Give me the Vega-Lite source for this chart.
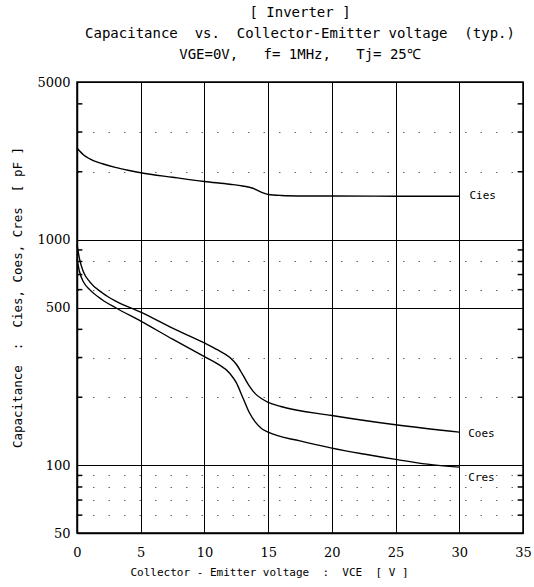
{
  "$schema": "https://vega.github.io/schema/vega-lite/v6.json",
  "width": 446,
  "height": 451,
  "autosize": {"type": "none"},
  "padding": {"left": 77, "top": 82, "right": 11, "bottom": 54},
  "background": "white",
  "config": {
    "view": {"stroke": "black", "strokeWidth": 1.5},
    "font": "DejaVu Sans Mono"
  },
  "title": {
    "text": ["[ Inverter ]", "Capacitance\u00a0\u00a0vs.\u00a0\u00a0Collector-Emitter voltage\u00a0\u00a0(typ.)", "VGE=0V,\u00a0\u00a0\u00a0f=\u00a01MHz,\u00a0\u00a0\u00a0Tj=\u00a025℃"],
    "anchor": "middle",
    "frame": "group",
    "font": "DejaVu Sans Mono",
    "fontSize": 14,
    "fontWeight": "normal",
    "lineHeight": 21,
    "offset": 14,
    "color": "black"
  },
  "datasets": {
    "curves": [
      {"series": "Cies", "vce": 0, "c": 2550},
      {"series": "Cies", "vce": 0.5, "c": 2380},
      {"series": "Cies", "vce": 1, "c": 2280},
      {"series": "Cies", "vce": 2, "c": 2170},
      {"series": "Cies", "vce": 3, "c": 2090},
      {"series": "Cies", "vce": 4, "c": 2030},
      {"series": "Cies", "vce": 5, "c": 1980},
      {"series": "Cies", "vce": 7.5, "c": 1890},
      {"series": "Cies", "vce": 10, "c": 1810},
      {"series": "Cies", "vce": 12, "c": 1760},
      {"series": "Cies", "vce": 13, "c": 1730},
      {"series": "Cies", "vce": 13.8, "c": 1690},
      {"series": "Cies", "vce": 14.5, "c": 1620},
      {"series": "Cies", "vce": 15, "c": 1585},
      {"series": "Cies", "vce": 16, "c": 1570},
      {"series": "Cies", "vce": 18, "c": 1562},
      {"series": "Cies", "vce": 20, "c": 1560},
      {"series": "Cies", "vce": 25, "c": 1558},
      {"series": "Cies", "vce": 30, "c": 1556},
      {"series": "Coes", "vce": 0, "c": 950},
      {"series": "Coes", "vce": 0.2, "c": 820},
      {"series": "Coes", "vce": 0.5, "c": 720},
      {"series": "Coes", "vce": 1, "c": 650},
      {"series": "Coes", "vce": 2, "c": 580},
      {"series": "Coes", "vce": 3, "c": 535},
      {"series": "Coes", "vce": 5, "c": 477},
      {"series": "Coes", "vce": 7.5, "c": 405},
      {"series": "Coes", "vce": 10, "c": 348},
      {"series": "Coes", "vce": 11, "c": 325},
      {"series": "Coes", "vce": 12, "c": 300},
      {"series": "Coes", "vce": 12.5, "c": 280},
      {"series": "Coes", "vce": 13, "c": 252},
      {"series": "Coes", "vce": 13.5, "c": 225},
      {"series": "Coes", "vce": 14, "c": 207},
      {"series": "Coes", "vce": 14.5, "c": 197},
      {"series": "Coes", "vce": 15, "c": 190},
      {"series": "Coes", "vce": 16, "c": 182},
      {"series": "Coes", "vce": 20, "c": 166},
      {"series": "Coes", "vce": 25, "c": 151},
      {"series": "Coes", "vce": 30, "c": 140},
      {"series": "Cres", "vce": 0, "c": 820},
      {"series": "Cres", "vce": 0.2, "c": 720},
      {"series": "Cres", "vce": 0.5, "c": 650},
      {"series": "Cres", "vce": 1, "c": 600},
      {"series": "Cres", "vce": 2, "c": 540},
      {"series": "Cres", "vce": 3, "c": 500},
      {"series": "Cres", "vce": 5, "c": 435},
      {"series": "Cres", "vce": 7.5, "c": 362},
      {"series": "Cres", "vce": 10, "c": 303},
      {"series": "Cres", "vce": 11, "c": 282},
      {"series": "Cres", "vce": 12, "c": 255},
      {"series": "Cres", "vce": 12.5, "c": 232},
      {"series": "Cres", "vce": 13, "c": 200},
      {"series": "Cres", "vce": 13.5, "c": 172},
      {"series": "Cres", "vce": 14, "c": 155},
      {"series": "Cres", "vce": 14.5, "c": 145},
      {"series": "Cres", "vce": 15, "c": 140},
      {"series": "Cres", "vce": 17.5, "c": 128},
      {"series": "Cres", "vce": 20, "c": 119},
      {"series": "Cres", "vce": 22.5, "c": 112},
      {"series": "Cres", "vce": 25, "c": 106},
      {"series": "Cres", "vce": 27.5, "c": 101},
      {"series": "Cres", "vce": 30, "c": 98}
    ],
    "labels": [
      {"series": "Cies", "vce": 30.8, "c": 1560},
      {"series": "Coes", "vce": 30.7, "c": 138},
      {"series": "Cres", "vce": 30.7, "c": 88}
    ],
    "minorTicks": [
      {"c": 60}, {"c": 70}, {"c": 80}, {"c": 90},
      {"c": 200}, {"c": 300}, {"c": 400},
      {"c": 600}, {"c": 700}, {"c": 800}, {"c": 900},
      {"c": 2000}, {"c": 3000}, {"c": 4000}
    ]
  },
  "layer": [
    {
      "data": {"name": "curves"},
      "mark": {"type": "line", "color": "black", "strokeWidth": 1.4, "interpolate": "monotone"},
      "encoding": {
        "x": {
          "field": "vce", "type": "quantitative",
          "scale": {"domain": [0, 35], "nice": false, "zero": false},
          "axis": {
            "values": [0, 5, 10, 15, 20, 25, 30, 35],
            "title": "Collector\u00a0-\u00a0Emitter voltage\u00a0\u00a0:\u00a0\u00a0VCE\u00a0\u00a0[\u00a0V\u00a0]",
            "titleFont": "DejaVu Sans Mono", "titleFontSize": 11, "titleFontWeight": "normal",
            "titleColor": "black", "titleX": 192, "titleY": 39, "titleBaseline": "middle",
            "labelFont": "DejaVu Serif", "labelFontSize": 13, "labelColor": "black",
            "labelBaseline": "middle", "labelPadding": 19, "labelFlush": false,
            "ticks": false,
            "domainColor": "black", "domainWidth": 1.5,
            "grid": true, "gridColor": "black", "gridWidth": 1, "gridOpacity": 1
          }
        },
        "y": {
          "field": "c", "type": "quantitative",
          "scale": {"type": "log", "domain": [50, 5000], "nice": false},
          "axis": {
            "values": [50, 60, 70, 80, 90, 100, 200, 300, 400, 500, 600, 700, 800, 900, 1000, 2000, 3000, 4000, 5000],
            "labelExpr": "indexof([50,100,500,1000,5000], datum.value) >= 0 ? format(datum.value, 'd') : ''",
            "title": "Capacitance\u00a0\u00a0:\u00a0\u00a0Cies,\u00a0Coes,\u00a0Cres\u00a0\u00a0[\u00a0pF\u00a0]",
            "titleFont": "DejaVu Sans Mono", "titleFontSize": 12.5, "titleFontWeight": "normal",
            "titleColor": "black", "titleX": -60, "titleY": 215, "titleBaseline": "middle", "titleAngle": -90,
            "labelFont": "DejaVu Serif", "labelFontSize": 13, "labelColor": "black",
            "labelBaseline": "middle", "labelPadding": 7, "labelFlush": false, "labelOverlap": false,
            "ticks": false,
            "domainColor": "black", "domainWidth": 1.5,
            "grid": true,
            "gridColor": {"condition": {"test": "indexof([50,100,500,1000,5000], datum.value) >= 0", "value": "black"}, "value": "#666666"},
            "gridDash": {"condition": {"test": "indexof([50,100,500,1000,5000], datum.value) >= 0", "value": []}, "value": [1.5, 14]},
            "gridOpacity": {"condition": {"test": "indexof([4000,400,700,900], datum.value) >= 0", "value": 0}, "value": 1},
            "gridWidth": 1
          }
        },
        "detail": {"field": "series"}
      }
    },
    {
      "data": {"name": "minorTicks"},
      "mark": {"type": "rule", "color": "black", "strokeWidth": 1.5},
      "encoding": {
        "x": {"datum": 0, "type": "quantitative"},
        "x2": {"datum": 0.42},
        "y": {"field": "c", "type": "quantitative"}
      }
    },
    {
      "data": {"name": "minorTicks"},
      "mark": {"type": "rule", "color": "black", "strokeWidth": 1.5},
      "encoding": {
        "x": {"datum": 34.58, "type": "quantitative"},
        "x2": {"datum": 35},
        "y": {"field": "c", "type": "quantitative"}
      }
    },
    {
      "data": {"name": "labels"},
      "mark": {"type": "text", "align": "left", "baseline": "middle", "font": "DejaVu Sans Mono", "fontSize": 11, "color": "black"},
      "encoding": {
        "x": {"field": "vce", "type": "quantitative"},
        "y": {"field": "c", "type": "quantitative"},
        "text": {"field": "series"}
      }
    }
  ]
}
